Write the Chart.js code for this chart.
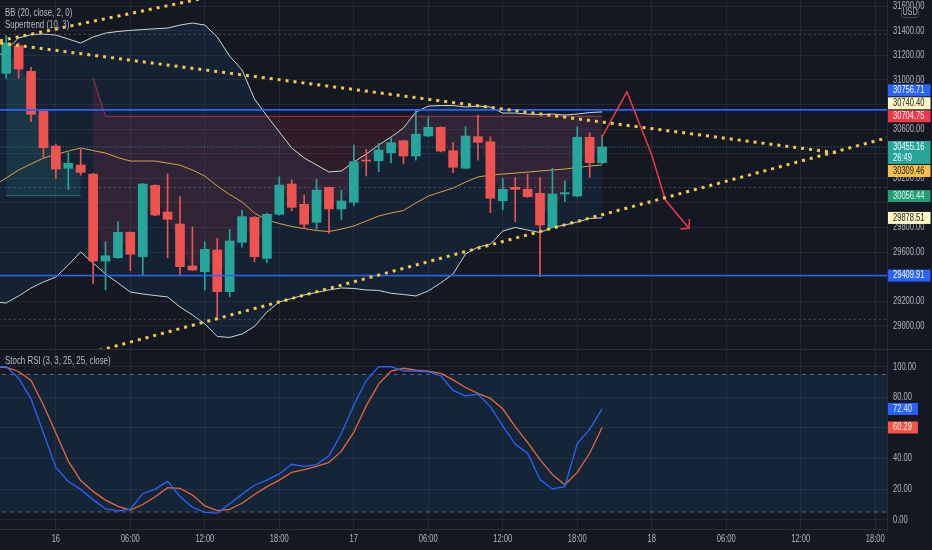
<!DOCTYPE html>
<html>
<head>
<meta charset="utf-8">
<script src="https://cdn.jsdelivr.net/npm/chart.js@4.4.1/dist/chart.umd.min.js"></script>
<style>
  html, body { margin: 0; padding: 0; background: #141823; overflow: hidden; }
  #wrap { width: 932px; height: 550px; }
  canvas { display: block; background: #141823; }
</style>
</head>
<body>
<div id="wrap">
  <canvas id="price" width="932" height="349"></canvas>
  <canvas id="stoch" width="932" height="201"></canvas>
</div>
<script>
// hourly candles, index 0 = 15th 20:00, index 48 = 17th 20:00 (still open)
const opens  = [31054,31278,31070,30747,30463,30282,30309,30235,29528,29555,29761,29563,30143,29926,29829,29488,29441,29618,29279,29680,29883,29550,29908,30154,29989,29843,30127,29951,30005,30349,30343,30408,30506,30382,30544,30615,30425,30282,30539,30498,30018,30127,30111,30078,29802,30073,30057,30534,30327];
const highs  = [31360,31300,31102,30760,30479,30408,30436,30240,29685,29848,29765,30160,30148,30235,30051,29807,29685,29713,29786,29943,29890,29915,30213,30187,30065,30192,30130,30105,30471,30436,30484,30534,30510,30756,30696,30620,30493,30620,30715,30539,30200,30208,30235,30208,30282,30181,30620,30571,30552];
const lows   = [31013,31013,30660,30363,30200,30111,30227,29347,29293,29550,29449,29415,29895,29555,29415,29450,29293,29075,29238,29640,29522,29514,29900,29937,29794,29786,29753,29867,29978,30219,30254,30327,30317,30349,30540,30415,30246,30278,30349,29921,29943,29848,30045,29401,29798,30011,30050,30208,30320];
const closes = [31302,31089,30720,30449,30276,30322,30249,29528,29571,29761,29583,30154,29902,29867,29482,29455,29623,29279,29691,29889,29563,29908,30146,29965,29827,30105,29951,30016,30335,30341,30430,30490,30382,30560,30615,30422,30290,30544,30493,30038,30111,30111,30051,29821,30073,30084,30534,30327,30455.16];

// indicator series start one bar earlier (index -1) so they reach the left edge
const bbUpper = [31170,31243,31341,31369,31373,31365,31333,31300,31349,31381,31394,31403,31410,31416,31422,31446,31463,31446,31349,31194,31081,30845,30707,30577,30447,30366,30309,30252,30260,30333,30398,30471,30536,30609,30739,30788,30792,30792,30780,30788,30780,30731,30731,30723,30719,30723,30715,30723,30735,30740.40];
const bbBasis = [30140,30203,30268,30317,30365,30394,30422,30447,30426,30406,30369,30341,30341,30341,30324,30308,30268,30219,30138,30069,30008,29918,29861,29833,29809,29792,29776,29768,29788,29813,29853,29894,29918,29939,30000,30056,30089,30122,30170,30211,30227,30235,30243,30251,30260,30268,30276,30288,30300,30309.46];
const bbLower = [29195,29187,29244,29309,29358,29398,29496,29602,29512,29423,29350,29276,29260,29248,29236,29155,29090,29017,28915,28907,28935,28996,29114,29195,29224,29252,29273,29293,29309,29305,29293,29289,29266,29256,29244,29285,29350,29423,29585,29642,29664,29772,29801,29780,29760,29801,29821,29845,29874,29878.51];
const stochK  = [100,100,92.5,79,56.7,34.2,25,19.8,13.1,7,5.8,6.9,17,20,25,15.2,8.1,4.8,4.3,10.4,16.6,22.5,25.9,29.9,36.2,34.8,36,41.7,56.3,75,91,100,100,97.2,97.2,96.7,94,84.5,81,82,73.9,61.4,49.4,43.5,26.2,20.1,21.6,49.7,59.1,72.40];
const stochD  = [100,99.5,96.9,91,75,56.6,38.3,25.6,18.5,12.8,8.7,6.3,9.9,15,20.9,20.5,16.1,9,5.9,6.8,10.7,16.5,21.6,25.9,31,32.8,34.8,37.4,44.8,57.2,74.4,88.6,97.2,99,97.8,97.2,95.6,91.4,86.4,82.6,79.3,72.5,60.8,50.6,39.3,29.5,22.8,30.9,43.4,60.29];

// supertrend: up line bars 0-6, down line bars 7-48
const superUp   = [30060,30060,30060,30060,30060,30060,30060];
const superDown = [31015,30704.75,30704.75,30704.75,30704.75,30704.75,30704.75,30704.75,30704.75,30704.75,30704.75,30704.75,30704.75,30704.75,30704.75,30704.75,30704.75,30704.75,30704.75,30704.75,30704.75,30704.75,30704.75,30704.75,30704.75,30704.75,30704.75,30704.75,30704.75,30704.75,30704.75,30704.75,30704.75,30704.75,30704.75,30704.75,30704.75,30704.75,30704.75,30704.75,30704.75,30704.75];

// drawings (bar index, price)
const trendRise  = [[-0.5, 31319], [20, 31751]];
const trendFall  = [[-0.5, 31300], [67, 30406]];
const trendLow   = [[5, 28733], [71, 30531]];
const sketchPath = [[48, 30538], [50, 30904], [52, 30390], [53.1, 30024], [55, 29794]];
const sketchHead = [[54.3, 29788], [55, 29794], [55.04, 29870]];
const blueLevels = [30756.71, 29409.91];
const dotLevels  = [31371, 30126, 29054];
const lastPrice  = 30455.16;

// axes
const priceTicks = [29000,29200,29400,29600,29800,30000,30200,30400,30600,30800,31000,31200,31400,31600];
const stochTicks = [0,20,40,60,80,100];
const stochBands = [95, 5];
const timeTicks  = [4,10,16,22,28,34,40,46,52,58,64,70];
const timeLabels = ['16','06:00','12:00','18:00','17','06:00','12:00','18:00','18','06:00','12:00','18:00'];

const priceTags = [
  { v: 30704.75, bg: '#f23645', fg: '#ffffff' },
  { v: 30455.16, bg: '#26a69a', fg: '#ffffff', sub: '26:49' },
  { v: 30740.40, bg: '#fff9c4', fg: '#131722' },
  { v: 30756.71, bg: '#2962ff', fg: '#ffffff' },
  { v: 30309.46, bg: '#f5c04a', fg: '#131722' },
  { v: 30056.44, bg: '#1f9e74', fg: '#e6f4ef' },
  { v: 29878.51, bg: '#fff9c4', fg: '#131722' },
  { v: 29409.91, bg: '#2962ff', fg: '#ffffff' }
];
const stochTags = [
  { v: 72.40, bg: '#2962ff', fg: '#f4f4e6' },
  { v: 60.29, bg: '#f5524a', fg: '#fbf4e6' }
];

const SQ = 0.72;          // screenshot text is horizontally narrow
const GRID = 'rgba(54,58,69,0.45)';
const TXT = '#b2b5be';
const X_MIN = -0.5, X_MAX = 70.95;
const FONT = '"Liberation Sans", Arial, sans-serif';

const series = (arr, start) => arr.map((v, i) => ({ x: start + i, y: v }));
const pts = list => list.map(([x, y]) => ({ x, y }));
const flat = v => [{ x: -1, y: v }, { x: 72, y: v }];

function drawText(ctx, txt, x, y, color, size, align) {
  ctx.save();
  ctx.font = size + 'px ' + FONT;
  ctx.fillStyle = color;
  ctx.textBaseline = 'middle';
  ctx.textAlign = align || 'left';
  ctx.translate(x, y);
  ctx.scale(SQ, 1);
  ctx.fillText(txt, 0, 0);
  ctx.restore();
}
function textWidth(ctx, txt, size) {
  ctx.save();
  ctx.font = size + 'px ' + FONT;
  const w = ctx.measureText(txt).width * SQ;
  ctx.restore();
  return w;
}

// stack the axis tags so they never overlap, earlier entries keep their place
function placeTags(list, scale) {
  const placed = [];
  list.forEach(t => {
    const c = scale.getPixelForValue(t.v);
    const h = t.sub ? 23 : 12;
    let top = c - 6;
    for (let k = 0; k < 12; k++) {
      const hit = placed.find(p => top < p.top + p.h + 1 && top + h + 1 > p.top);
      if (!hit) break;
      top = c < hit.c ? hit.top - 1 - h : hit.top + hit.h + 1;
    }
    placed.push(Object.assign({}, t, { c, top, h }));
  });
  return placed;
}

function drawAxisColumn(ctx, scale, ticks, tags, digits) {
  const boxes = placeTags(tags, scale);
  ticks.forEach(v => {
    const py = scale.getPixelForValue(v);
    if (boxes.some(b => Math.abs(b.top + 6 - py) < 7)) return;
    drawText(ctx, v.toFixed(2), 893, py, TXT, 10.5);
  });
  boxes.forEach(b => {
    const label = b.v.toFixed(digits);
    const w = textWidth(ctx, label, 10.5) + 11;
    ctx.fillStyle = b.bg;
    ctx.fillRect(888, b.top, w, b.h);
    drawText(ctx, label, 893, b.top + 6, b.fg, 10.5);
    if (b.sub) drawText(ctx, b.sub, 893, b.top + 17, b.fg, 10.5);
  });
}

const pricePanel = {
  id: 'pricePanel',
  afterDraw(chart) {
    const ctx = chart.ctx;
    drawAxisColumn(ctx, chart.scales.y, priceTicks, priceTags, 2);
    // currency badge
    ctx.save();
    ctx.fillStyle = '#141823';
    ctx.strokeStyle = '#434651';
    ctx.lineWidth = 1;
    ctx.beginPath();
    ctx.roundRect(901.5, 6.5, 17, 11, 2);
    ctx.fill();
    ctx.stroke();
    ctx.restore();
    drawText(ctx, 'USD', 910, 12.5, TXT, 10, 'center');
    drawText(ctx, 'BB (20, close, 2, 0)', 5, 13, '#b8bbc4', 11);
    drawText(ctx, 'Supertrend (10, 3)', 5, 25, '#b8bbc4', 11);
  }
};

const stochPanel = {
  id: 'stochPanel',
  afterDraw(chart) {
    const ctx = chart.ctx;
    ctx.save();
    ctx.fillStyle = '#2a2e39';
    ctx.fillRect(0, 0, 932, 1);
    ctx.restore();
    drawAxisColumn(ctx, chart.scales.y, stochTicks, stochTags, 2);
    const xs = chart.scales.x;
    timeTicks.forEach((t, i) => drawText(ctx, timeLabels[i], xs.getPixelForValue(t), 190, TXT, 10.5, 'center'));
    drawText(ctx, 'Stoch RSI (3, 3, 25, 25, close)', 5, 12, '#b8bbc4', 11);
  }
};

const xScale = hideAxis => ({
  type: 'linear', min: X_MIN, max: X_MAX, offset: false,
  grid: { color: GRID, drawTicks: false, offset: false },
  border: { display: !hideAxis, color: '#2a2e39' },
  ticks: { display: false },
  afterBuildTicks: s => { s.ticks = timeTicks.map(v => ({ value: v })); },
  afterFit: s => { s.height = hideAxis ? 0 : 21; }
});
const yScale = (min, max, ticks) => ({
  type: 'linear', position: 'right', min, max, beginAtZero: false,
  grid: { color: GRID, drawTicks: false },
  border: { display: true, color: '#2a2e39' },
  ticks: { display: false },
  afterBuildTicks: s => { s.ticks = ticks.map(v => ({ value: v })); },
  afterFit: s => { s.width = 45; }
});
const baseOptions = (scales) => ({
  responsive: false, animation: false, events: [],
  layout: { padding: 0 },
  plugins: { legend: { display: false }, tooltip: { enabled: false } },
  scales
});
const lineSet = (data, color, width, extra) => Object.assign({
  type: 'line', data, borderColor: color, borderWidth: width,
  pointRadius: 0, tension: 0, fill: false
}, extra || {});

const upColor = '#26a69a', downColor = '#ef5350';
const candleColors = closes.map((c, i) => c >= opens[i] ? upColor : downColor);
const bodyMid = closes.map((c, i) => (opens[i] + c) / 2);

const priceSets = [
  lineSet(series(bbUpper, -1), '#c9dccc', 1, { order: 5, fill: { target: 2 }, backgroundColor: 'rgba(33,150,243,0.08)' }),
  lineSet(series(bbBasis, -1), '#e3a23c', 1, { order: 5 }),
  lineSet(series(bbLower, -1), '#c9dccc', 1, { order: 5 }),
  lineSet(series(bodyMid.slice(0, 7), 0), 'transparent', 0, { order: 7 }),
  lineSet(series(bodyMid.slice(7), 7), 'transparent', 0, { order: 7 }),
  lineSet(series(superUp, 0), 'rgba(38,166,154,0.55)', 1.2, { order: 6, fill: { target: 3 }, backgroundColor: 'rgba(38,166,154,0.15)' }),
  lineSet(series(superDown, 7), 'rgba(242,54,69,0.55)', 1.2, { order: 6, fill: { target: 4 }, backgroundColor: 'rgba(242,54,69,0.13)' }),
  { type: 'bar', order: 2, grouped: false, barThickness: 1, minBarLength: 1,
    data: lows.map((l, i) => ({ x: i, y: [l, highs[i]] })), backgroundColor: candleColors },
  { type: 'bar', order: 1, grouped: false, barThickness: 9, minBarLength: 1,
    data: opens.map((o, i) => ({ x: i, y: [o, closes[i]] })), backgroundColor: candleColors },
  lineSet(pts(trendRise), '#f5c846', 3, { order: 0, borderDash: [3, 5] }),
  lineSet(pts(trendFall), '#f5c846', 3, { order: 0, borderDash: [3, 5] }),
  lineSet(pts(trendLow), '#f5c846', 3, { order: 0, borderDash: [3, 5] }),
  lineSet(pts(sketchPath), '#f23645', 1.5, { order: 0 }),
  lineSet(pts(sketchHead), '#f23645', 1.5, { order: 0 })
];
blueLevels.forEach(v => priceSets.push(lineSet(flat(v), '#2962ff', 1.6, { order: 0 })));
dotLevels.forEach(v => priceSets.push(lineSet(flat(v), 'rgba(120,123,134,0.55)', 1, { order: 4, borderDash: [2, 3] })));
priceSets.push(lineSet(flat(lastPrice), 'rgba(38,166,154,0.8)', 1, { order: 4, borderDash: [1, 2] }));

new Chart(document.getElementById('price'), {
  type: 'line',
  data: { datasets: priceSets },
  options: baseOptions({ x: xScale(true), y: yScale(28813, 31650, priceTicks) }),
  plugins: [pricePanel]
});

new Chart(document.getElementById('stoch'), {
  type: 'line',
  data: {
    datasets: [
      lineSet(flat(stochBands[0]), 'rgba(120,123,134,0.8)', 1, { order: 3, borderDash: [4, 4], fill: { target: 1 }, backgroundColor: 'rgba(33,150,243,0.1)' }),
      lineSet(flat(stochBands[1]), 'rgba(120,123,134,0.8)', 1, { order: 3, borderDash: [4, 4] }),
      lineSet(series(stochD, -1), '#e8663a', 1.3, { order: 1 }),
      lineSet(series(stochK, -1), '#2962ff', 1.3, { order: 0 })
    ]
  },
  options: baseOptions({ x: xScale(false), y: yScale(-6.1, 111.6, stochTicks) }),
  plugins: [stochPanel]
});
</script>
</body>
</html>
